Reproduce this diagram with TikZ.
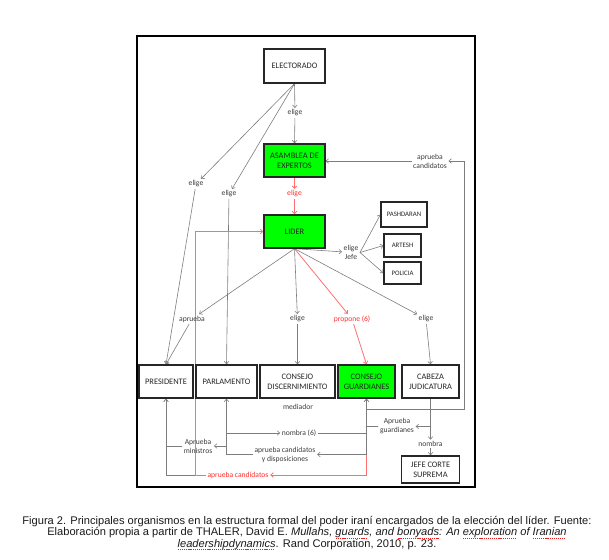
\documentclass[tikz,border=0pt]{standalone}
\usepackage{fontspec}
\setmainfont{Liberation Sans}
\newfontfamily\dfont{Carlito}
\usetikzlibrary{arrows.meta}
\pgfdeclarelayer{bg}
\pgfsetlayers{bg,main}
\definecolor{glin}{RGB}{125,125,125}
\definecolor{rlin}{RGB}{255,110,110}
\definecolor{rtxt}{RGB}{255,45,45}
\definecolor{gboxc}{RGB}{0,255,0}
\definecolor{ltxt}{RGB}{60,60,60}
\definecolor{squig}{RGB}{230,30,30}
\newsavebox\sqbox
\newcommand\sqw[1]{\sbox\sqbox{#1}\rlap{\raisebox{-2.6pt}{\color{squig}\hbox to \wd\sqbox{\leaders\hbox to 1.9pt{\hss\rule{1.1pt}{0.8pt}\hss}\hfill}}}\usebox\sqbox}
\begin{document}
\begin{tikzpicture}[x=1pt,y=-1pt,
 box/.style={draw=black!85,line width=1.3pt,fill=white,text=black!85,font=\dfont\fontsize{8.4}{10}\selectfont,align=center,inner sep=0pt},
 gbox/.style={box,fill=gboxc},
 sbox/.style={box,font=\dfont\fontsize{6.8}{8}\selectfont,line width=1.1pt},
 lab/.style={font=\dfont\fontsize{7.6}{9}\selectfont,text=ltxt,align=center,inner sep=1.5pt},
 rlab/.style={lab,text=rtxt},
 con/.style={draw=glin,line width=0.6pt},
 arr/.style={con,-{Straight Barb[length=2.5pt,width=4.5pt]}},
 rcon/.style={draw=rlin,line width=0.8pt},
 rarr/.style={rcon,-{Straight Barb[length=2.5pt,width=4.5pt]}},
]
\useasboundingbox (0,0) rectangle (609,559);
\draw[line width=1.1pt] (137,36) rectangle (475,487);

% boxes
\node[box,minimum width=61pt,minimum height=34pt] (E) at (294.5,66) {ELECTORADO};
\node[gbox,minimum width=61pt,minimum height=33pt] (A) at (294.5,160.5) {ASAMBLEA DE\\EXPERTOS};
\node[gbox,minimum width=61pt,minimum height=33pt] (L) at (294.5,231.5) {LIDER};
\node[sbox,minimum width=46pt,minimum height=25pt] (PS) at (404,214.5) {PASHDARAN};
\node[sbox,minimum width=37pt,minimum height=23pt] (AR) at (402.5,245.5) {ARTESH};
\node[sbox,minimum width=37pt,minimum height=22pt] (PO) at (402.5,273) {POLICIA};
\node[box,minimum width=54pt,minimum height=33pt] (P) at (166,381.5) {PRESIDENTE};
\node[box,minimum width=61pt,minimum height=33pt] (PA) at (226.5,381.5) {PARLAMENTO};
\node[box,minimum width=75pt,minimum height=33pt] (D) at (297.5,381.5) {CONSEJO\\DISCERNIMIENTO};
\node[gbox,minimum width=57pt,minimum height=33pt] (G) at (366.5,381.5) {CONSEJO\\GUARDIANES};
\node[box,minimum width=57pt,minimum height=33pt] (C) at (430.5,381.5) {CABEZA\\JUDICATURA};
\node[box,minimum width=58pt,minimum height=27pt] (J) at (430.5,469.5) {JEFE CORTE\\SUPREMA};

% labels
\node[lab] (l1) at (295,113) {elige};
\node[lab] (l2) at (196,184) {elige};
\node[lab] (l3) at (229,194) {elige};
\node[rlab] (l4) at (294.5,194) {elige};
\node[lab] (l5) at (430,161) {aprueba\\candidatos};
\node[lab] (l6) at (351,252.5) {elige\\Jefe};
\node[lab] (l7) at (192,319) {aprueba};
\node[lab] (l8) at (297.5,319) {elige};
\node[rlab] (l9) at (352,319) {propone (6)};
\node[lab] (l10) at (426,319) {elige};
\node[lab] (l11) at (298,407) {mediador};
\node[lab] (l12) at (397,426.5) {Aprueba\\guardianes};
\node[lab] (l13) at (299,433) {nombra (6)};
\node[lab] (l14) at (430.5,444) {nombra};
\node[lab] (l15) at (198,446) {Aprueba\\ministros};
\node[lab] (l16) at (285,454.5) {aprueba candidatos\\y disposiciones};
\node[rlab] (l17) at (238,475) {aprueba candidatos};

% coordinates
\coordinate (k1) at (464,409);
\coordinate (k2) at (464,161);
\coordinate (r2) at (195,475);

\begin{pgfonlayer}{bg}
% red connectors (underneath)
\draw[rarr] (A.south) -- (l4);
\draw[rarr] (l4) -- (L.north);
\draw[rarr] (L.south) -- (l9);
\draw[rarr] (l9) -- (G.north);
\draw[rarr] (G.south) |- (l17);

% grey connectors
\draw[arr] (E.south) -- (l1);
\draw[arr] (l1) -- (A.north);
\draw[arr] (E.south) -- (l2);
\draw[arr] (l2) -- (P.north);
\draw[arr] (E.south) -- (l3);
\draw[arr] (l3) -- (PA.north);
\draw[arr] (G.south) |- (k1) -- (k2) -- (l5);
\draw[arr] (l5) -- (A.east |- l5);
\draw[arr] (L.south) -- (l6);
\draw[arr] (l6.east) -- (PS.west);
\draw[arr] (l6.east) -- (AR.west);
\draw[arr] (l6.east) -- (PO.west);
\draw[arr] (L.south) -- (l7);
\draw[arr] (l7) -- (P.north);
\draw[arr] (L.south) -- (l8);
\draw[arr] (l8) -- (D.north);
\draw[arr] (L.south) -- (l10);
\draw[arr] (l10) -- (C.north);
\draw[arr] (G.south) |- (l16);
\draw[arr] (l16) -| (PA.south);
\draw[arr] (PA.south) |- (l13);
\draw[arr] (l13) -| (G.south);
\draw[arr] (C.south) |- (l12);
\draw[arr] (l12) -| (G.south);
\draw[arr] (C.south) -- (l14);
\draw[arr] (l14) -- (J.north);
\draw[arr] (PA.south) |- (l15);
\draw[arr] (l15) -| (P.south);
\draw[arr] (l17) -| (P.south);
\draw[rarr] (l17.west) -- (r2) |- (L.west);
\end{pgfonlayer}

% caption
\node[font=\fontsize{11.1}{11.6}\selectfont,text=black!90,align=center,inner sep=0pt] (cap) at (307,533) {Figura 2. Principales organismos en la estructura formal del poder iraní encargados de la elección del líder. Fuente:\\
Elaboración propia a partir de THALER, David E. \textit{Mullahs, \sqw{guards}, and \sqw{bonyads}: An \sqw{exploration} of \sqw{Iranian}}\\
\textit{\sqw{leadershipdynamics}}. Rand Corporation, 2010, p. 23.};
\end{tikzpicture}
\end{document}
